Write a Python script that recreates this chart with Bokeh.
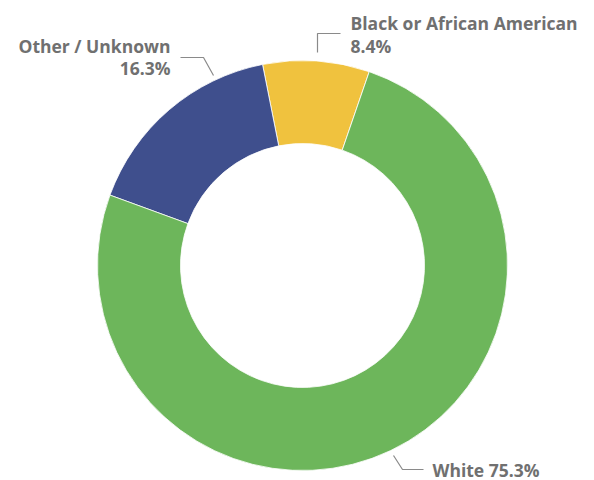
import numpy as np
from bokeh.plotting import figure
from bokeh.models import Range1d, ColumnDataSource
from bokeh.core.properties import value
from bokeh.embed import file_html
from bokeh.resources import INLINE

categories = ["Black or African American", "Other / Unknown", "White"]
percents = [8.4, 16.3, 75.3]
colors = ["#f0c23e", "#3f4f8d", "#6db65b"]

W, H = 594, 480
p = figure(width=W, height=H, output_backend="svg", toolbar_location=None,
           x_range=Range1d(0, W), y_range=Range1d(0, H), min_border=0)
p.axis.visible = False
p.grid.visible = False
p.outline_line_color = None
p.background_fill_color = "white"

cx, cy = 302, H - 265
r_out, r_in = 205, 122
start0 = np.deg2rad(71.0)
vals = np.array(percents)
ang = vals / vals.sum() * 2 * np.pi
ends = start0 + np.cumsum(ang)
starts = ends - ang
src = ColumnDataSource(dict(cat=categories, start=starts, end=ends, color=colors))
p.annular_wedge(x=cx, y=cy, inner_radius=r_in, outer_radius=r_out,
                start_angle="start", end_angle="end", fill_color="color",
                line_color="white", line_width=0.8, source=src)

# leader lines (layout)
lc = "#8a8a8a"
p.line([317, 317, 340], [H - 52, H - 33, H - 33], line_color=lc, line_width=1.2)
p.line([213, 203, 180], [H - 75, H - 57, H - 57], line_color=lc, line_width=1.2)
p.line([393, 402, 423], [H - 455, H - 469, H - 469], line_color=lc, line_width=1.2)

font = value("Open Sans")
tc = "#707070"
fs = "17.5px"
lbl = {c: f"{v}%" for c, v in zip(categories, percents)}
p.text(x=[350, 350], y=[H - 22, H - 45], text=[categories[0], lbl[categories[0]]],
       text_font=font, text_font_size=fs, text_color=tc, text_font_style="bold",
       text_align="left", text_baseline="middle")
p.text(x=[170, 170], y=[H - 45, H - 67], text=[categories[1], lbl[categories[1]]],
       text_font=font, text_font_size=fs, text_color=tc, text_font_style="bold",
       text_align="right", text_baseline="middle")
p.text(x=[432], y=[H - 469], text=[f"{categories[2]} {lbl[categories[2]]}"],
       text_font=font, text_font_size=fs, text_color=tc, text_font_style="bold",
       text_align="left", text_baseline="middle")

open("out.html", "w").write(file_html(p, INLINE))
